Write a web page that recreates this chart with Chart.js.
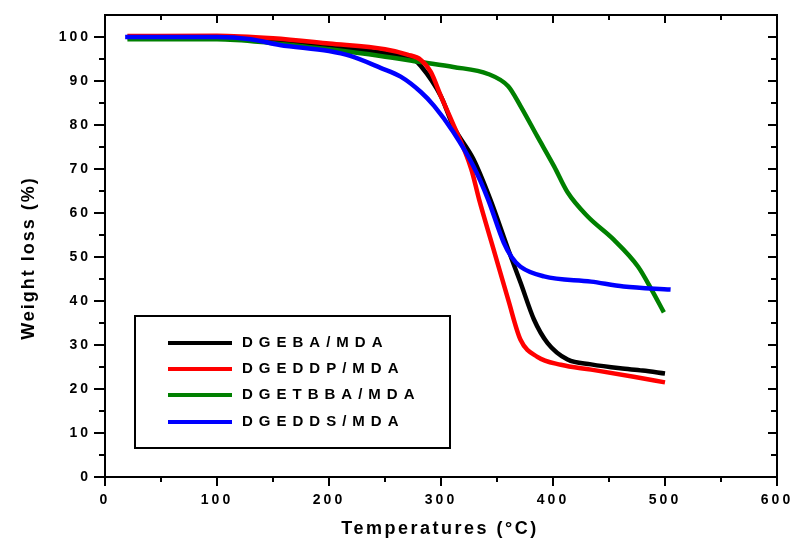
<!DOCTYPE html>
<html>
<head>
<meta charset="utf-8">
<script src="https://cdn.jsdelivr.net/npm/chart.js@4/dist/chart.umd.min.js"></script>
<style>
  html, body { margin: 0; padding: 0; background: #fff; }
  #wrap { width: 794px; height: 541px; }
</style>
</head>
<body>
<div id="wrap"><canvas id="tga"></canvas></div>
<script>
// values: temperature (°C) and weight (%)
const seriesNames = ["DGEBA/MDA", "DGEDDP/MDA", "DGETBBA/MDA", "DGEDDS/MDA"];
const seriesColors = ["#000000", "#ff0000", "#008000", "#0000ff"];

const tempEBA = [20, 100, 150, 200, 250, 275, 282, 300, 311, 329, 344, 360, 371, 383, 395, 413, 434, 460, 480, 500];
const wEBA    = [100, 100, 99.3, 98.0, 96.3, 95, 93.4, 86.5, 79.7, 72.2, 63.1, 51.7, 44.2, 35.8, 30.5, 26.7, 25.6, 24.7, 24.2, 23.5];

const tempDDP = [20, 100, 150, 200, 250, 270, 282, 291, 300, 309, 327, 334, 347, 360, 371, 386, 407, 434, 472, 500];
const wDDP    = [100.2, 100.3, 99.7, 98.5, 97.2, 96, 94.8, 92, 86.5, 81.3, 70, 63.1, 51.7, 40.3, 31.2, 27.3, 25.5, 24.4, 22.8, 21.5];

const tempTBBA = [20, 100, 150, 200, 246, 282, 311, 342, 360, 371, 386, 401, 413, 431, 454, 476, 488, 499];
const wTBBA    = [99.5, 99.5, 98.6, 97.2, 95.7, 94.3, 93.2, 91.6, 88.8, 84.3, 77.4, 70.6, 64.7, 59.2, 54, 47.8, 42.6, 37.4];

const tempDDS = [18, 100, 130, 156, 200, 219, 246, 264, 282, 294, 311, 329, 342, 356, 363, 371, 392, 434, 463, 505];
const wDDS    = [100, 100, 99.5, 98.2, 96.8, 95.7, 93, 91, 87.5, 84.3, 78.4, 70.6, 63.1, 53.3, 50, 47.8, 45.6, 44.4, 43.3, 42.6];

const xTicks = [0, 100, 200, 300, 400, 500, 600];
const yTicks = [0, 10, 20, 30, 40, 50, 60, 70, 80, 90, 100];

const xTitle = 'Temperatures (°C)';
const yTitle = 'Weight loss (%)';
const fontFamily = '"Liberation Sans", Arial, sans-serif';

function pairs(xs, ys) {
    return xs.map((x, i) => ({x: x, y: ys[i]}));
}

const allTemps = [tempEBA, tempDDP, tempTBBA, tempDDS];
const allWeights = [wEBA, wDDP, wTBBA, wDDS];
const drawOrder = [3, 1, 2, 0];

// wide letter spacing for the tick labels, switched off before the lines
const spacing = {
    id: 'spacing',
    beforeDraw(chart) { chart.ctx.letterSpacing = '3px'; },
    beforeDatasetsDraw(chart) { chart.ctx.letterSpacing = '0px'; }
};

// frame + tick marks on all four sides (major and minor), and axis titles
const frameTicks = {
    id: 'frameTicks',
    afterDraw(chart) {
        const ctx = chart.ctx;
        const a = chart.chartArea;
        const xs = chart.scales.x;
        const ys = chart.scales.y;
        ctx.save();
        ctx.strokeStyle = '#000';
        ctx.lineWidth = 2;
        ctx.strokeRect(a.left, a.top, a.right - a.left, a.bottom - a.top);
        ctx.beginPath();
        for (let v = 0; v <= 600; v += 50) {
            const px = Math.round(xs.getPixelForValue(v));
            const major = v % 100 == 0;
            ctx.moveTo(px, a.bottom);
            ctx.lineTo(px, a.bottom + (major ? 9 : 5));
            ctx.moveTo(px, a.top);
            ctx.lineTo(px, a.top + (major ? 8 : 5));
        }
        for (let v = 0; v <= 100; v += 5) {
            const py = Math.round(ys.getPixelForValue(v));
            const major = v % 10 == 0;
            ctx.moveTo(a.left, py);
            ctx.lineTo(a.left - (major ? 11 : 6), py);
            ctx.moveTo(a.right, py);
            ctx.lineTo(a.right - (major ? 9 : 6), py);
        }
        ctx.stroke();

        ctx.fillStyle = '#000';
        ctx.font = 'bold 18px ' + fontFamily;
        ctx.letterSpacing = '2.5px';
        ctx.textAlign = 'center';
        ctx.textBaseline = 'middle';
        ctx.fillText(xTitle, 440, 529);
        ctx.translate(29, 258);
        ctx.rotate(-Math.PI / 2);
        ctx.letterSpacing = '2px';
        ctx.fillText(yTitle, 0, 0);
        ctx.restore();
    }
};

// boxed legend sitting inside the plot area
const boxLegend = {
    id: 'boxLegend',
    afterDraw(chart) {
        const ctx = chart.ctx;
        ctx.save();
        ctx.strokeStyle = '#000';
        ctx.lineWidth = 2;
        ctx.strokeRect(135, 316, 315, 132);
        ctx.font = 'bold 15px ' + fontFamily;
        ctx.letterSpacing = '6px';
        ctx.textBaseline = 'middle';
        ctx.fillStyle = '#000';
        const rows = [343, 369, 395, 422];
        chart.data.datasets.forEach((ds, i) => {
            ctx.strokeStyle = ds.borderColor;
            ctx.lineWidth = 4;
            ctx.beginPath();
            ctx.moveTo(168, rows[i]);
            ctx.lineTo(232, rows[i]);
            ctx.stroke();
            ctx.fillText(ds.label, 242, rows[i]);
        });
        ctx.restore();
    }
};

const ctx = document.getElementById('tga').getContext('2d');

const tgaChart = new Chart(ctx, {
    type: 'line',
    data: {
        datasets: seriesNames.map((name, i) => ({
            label: name,
            data: pairs(allTemps[i], allWeights[i]),
            borderColor: seriesColors[i],
            backgroundColor: seriesColors[i],
            borderWidth: 4.5,
            pointRadius: 0,
            fill: false,
            cubicInterpolationMode: 'monotone',
            order: drawOrder[i]
        }))
    },
    options: {
        responsive: true,
        maintainAspectRatio: false,
        animation: false,
        layout: {
            padding: {top: 15, right: 17, left: 0, bottom: 0}
        },
        plugins: {
            legend: { display: false },
            tooltip: { enabled: false }
        },
        scales: {
            x: {
                type: 'linear',
                min: 0,
                max: 600,
                grid: { display: false, drawTicks: false },
                border: { display: false },
                afterBuildTicks: (scale) => { scale.ticks = xTicks.map(v => ({value: v})); },
                afterFit: (scale) => {
                    scale.height = 64;
                    scale.paddingLeft = 0;
                    scale.paddingRight = 0;
                },
                ticks: {
                    padding: 15,
                    color: '#000',
                    font: { family: fontFamily, size: 14, weight: 'bold' }
                }
            },
            y: {
                min: 0,
                max: 105,
                grid: { display: false, drawTicks: false },
                border: { display: false },
                afterBuildTicks: (scale) => { scale.ticks = yTicks.map(v => ({value: v})); },
                afterFit: (scale) => {
                    scale.width = 105;
                    scale.paddingTop = 0;
                    scale.paddingBottom = 0;
                },
                ticks: {
                    padding: 14,
                    color: '#000',
                    font: { family: fontFamily, size: 14, weight: 'bold' }
                }
            }
        }
    },
    plugins: [spacing, frameTicks, boxLegend]
});
</script>
</body>
</html>
